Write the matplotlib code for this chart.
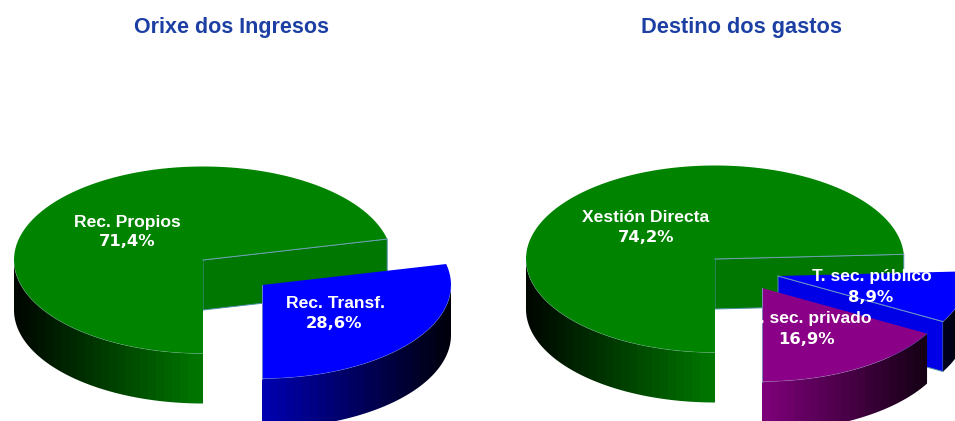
import numpy as np
import matplotlib
matplotlib.use("Agg")
import matplotlib.pyplot as plt
from matplotlib.patches import Polygon
from matplotlib.colors import to_rgb

W, H = 955, 421
titles = ["Orixe dos Ingresos", "Destino dos gastos"]
left_labels = ["Rec. Propios", "Rec. Transf."]
left_values = [71.4, 28.6]
right_labels = ["Xestión Directa", "T. sec. público", "T. sec. privado"]
right_values = [74.2, 8.9, 16.9]
left_colors = ["#008400", "#0000ff"]
right_colors = ["#008400", "#0000ff", "#8a0086"]
title_color = "#1c3fa3"

RX, RY, DEPTH = 189, 93.5, 50
BANDS = 48
plt.rcParams["font.family"] = ["Liberation Sans", "DejaVu Sans"]
fig = plt.figure(figsize=(W / 100, H / 100), dpi=100, facecolor="white")
ax = fig.add_axes([0, 0, 1, 1])
ax.set_xlim(0, W)
ax.set_ylim(H, 0)
ax.axis("off")


def draw_slice(cx, cy, a0, a1, color, z, rim_gain=0.87):
    """Slice sweeping clockwise on screen from angle a0 to a1 (degrees from +x)."""
    rgb = np.array(to_rgb(color))
    th = np.radians(np.linspace(a0, a1, 600))
    xs = cx + RX * np.cos(th)
    ys = cy - RY * np.sin(th)

    # cut face at the trailing edge, seen when the edge is not straight down
    if abs(np.cos(th[-1])) > 0.01:
        ax.add_patch(Polygon([(cx, cy), (xs[-1], ys[-1]), (xs[-1], ys[-1] + DEPTH), (cx, cy + DEPTH)],
                             closed=True, fc=rgb * 0.9, ec="#4f8fa8", lw=0.7, zorder=z))

    # rim with a horizontal shade, only its lower (front) part is visible
    vis = np.sin(th) <= 0
    if vis.any():
        xv, yv = xs[vis], ys[vis]
        clip = np.vstack([np.column_stack([xv, yv]), np.column_stack([xv[::-1], yv[::-1] + DEPTH])])
        pol = Polygon(clip, closed=True, fc="none", ec="none", transform=ax.transData)
        ax.add_patch(pol)
        k = 1 - np.abs(np.linspace(-1, 1, BANDS))
        grad = (0.05 + rim_gain * k)[None, :, None] * rgb[None, None, :]
        im = ax.imshow(grad, extent=(cx - RX, cx + RX, cy + RY + DEPTH + 5, cy - RY), aspect="auto",
                       interpolation="nearest", zorder=z + 0.1)
        im.set_clip_path(pol)
        ax.plot(xv, yv, color="#8fb0c8", lw=0.5, alpha=0.35, zorder=z + 0.3)

    # top face
    ax.add_patch(Polygon([(cx, cy)] + list(zip(xs, ys)), closed=True, fc=color, ec="none", zorder=z + 0.2))
    ax.plot([cx, xs[-1]], [cy, ys[-1]], color="#7fa8c8", lw=0.7, alpha=0.8, zorder=z + 0.3)


def slices(values, start=-90.0):
    out, a = [], start
    for v in values:
        b = a - v * 3.6
        out.append((a, b))
        a = b
    return out


def label(xn, yn, xv, yv, name, val):
    ax.text(xn, yn, name, color="white", fontsize=12.6, fontweight="bold", ha="center", va="center", zorder=20)
    ax.text(xv, yv, f"{str(val).replace('.', ',')}%", color="white", fontsize=11.8, fontweight="bold",
            family="DejaVu Sans", ha="center", va="center", zorder=20)


s = slices(left_values)
draw_slice(203, 260, s[0][0], s[0][1], left_colors[0], 1)
draw_slice(262, 285, s[1][0], s[1][1], left_colors[1], 3, rim_gain=0.65)
label(127, 222, 127.5, 242, left_labels[0], left_values[0])
label(335, 303, 333.5, 323, left_labels[1], left_values[1])

s = slices(right_values)
draw_slice(715, 259, s[0][0], s[0][1], right_colors[0], 1)
draw_slice(778, 276, s[1][0], s[1][1], right_colors[1], 3, rim_gain=0.65)
draw_slice(762, 288, s[2][0], s[2][1], right_colors[2], 5)
label(646, 218, 646, 237, right_labels[0], right_values[0])
label(872, 277, 870.5, 297, right_labels[1], right_values[1])
label(811, 319, 806, 339, right_labels[2], right_values[2])

ax.text(231.5, 27, titles[0], color=title_color, fontsize=15.5, fontweight="bold", ha="center", va="center")
ax.text(741.5, 27, titles[1], color=title_color, fontsize=15.7, fontweight="bold", ha="center", va="center")

ax.set_xlim(0, W)
ax.set_ylim(H, 0)
fig.savefig("out.png", dpi=100, facecolor="white")
